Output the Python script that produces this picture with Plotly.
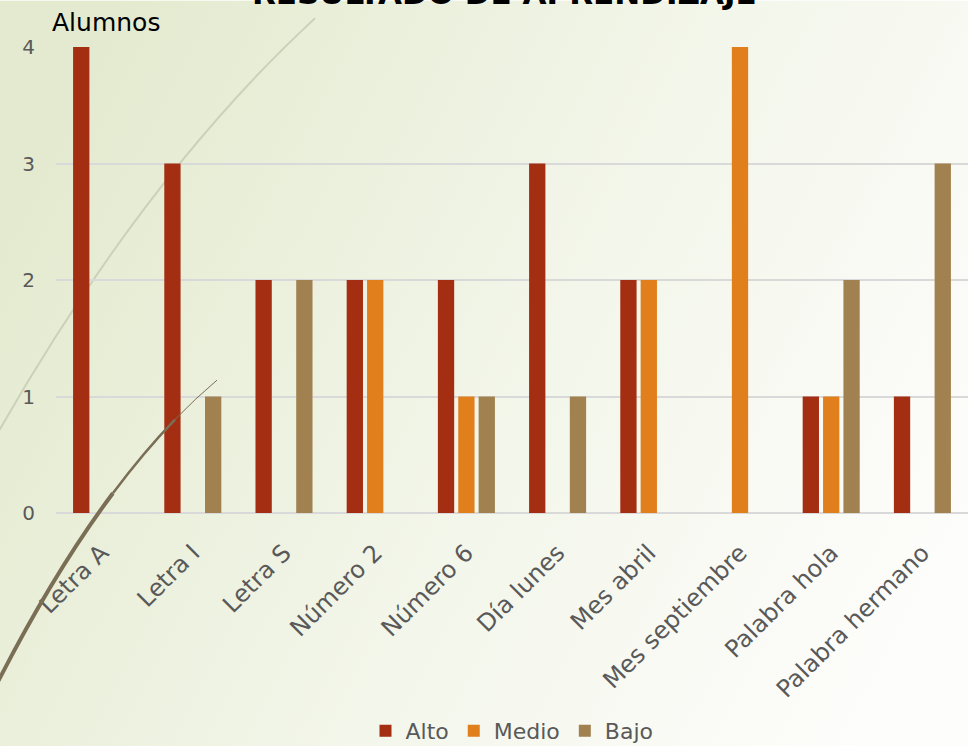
import plotly.graph_objects as go
import base64

categories = ["Letra A", "Letra I", "Letra S", "Número 2", "Número 6",
              "Día lunes", "Mes abril", "Mes septiembre", "Palabra hola", "Palabra hermano"]
alto = [4, 3, 2, 2, 2, 3, 2, 0, 1, 1]
medio = [0, 0, 0, 2, 1, 0, 2, 4, 1, 0]
bajo = [0, 1, 2, 0, 1, 1, 0, 0, 2, 3]
series_names = ["Alto", "Medio", "Bajo"]
colors = ["#A32E12", "#E07F1C", "#A0814F"]

W, H = 968, 752
ML, MR, MT, MB = 56, 0, 47, 235
PW, PH = W - ML - MR, H - MT - MB

def px(x, y):
    return ((x - ML) / PW, (H - MB - y) / PH)

FONT = "DejaVu Sans"

fig = go.Figure()
for name, vals, c in zip(series_names, [alto, medio, bajo], colors):
    fig.add_trace(go.Bar(x=categories, y=vals, name=name, marker=dict(color=c, line=dict(width=0))))

# background gradient
svg = f'''<svg xmlns="http://www.w3.org/2000/svg" width="{W}" height="{H}">
<defs><linearGradient id="g" x1="0" y1="0.3" x2="1" y2="0.7">
<stop offset="0" stop-color="#E4EACF"/><stop offset="0.55" stop-color="#F3F6EA"/><stop offset="1" stop-color="#FDFDFB"/>
</linearGradient></defs><rect width="{W}" height="{H}" fill="url(#g)"/></svg>'''
src = "data:image/svg+xml;base64," + base64.b64encode(svg.encode()).decode()

x0, y0 = px(0, 0)
fig.add_layout_image(dict(source=src, xref="paper", yref="paper", x=x0, y=y0,
                          sizex=W / PW, sizey=H / PH, xanchor="left", yanchor="top",
                          sizing="stretch", layer="below"))

def qpath(p0, c, p2):
    a = px(*p0); b = px(*c); d = px(*p2)
    return f"M {a[0]},{a[1]} Q {b[0]},{b[1]} {d[0]},{d[1]}"

def qsplit(p0, c, p2, t):
    lerp = lambda a, b, t: (a[0] + (b[0] - a[0]) * t, a[1] + (b[1] - a[1]) * t)
    a = lerp(p0, c, t); b = lerp(c, p2, t); m = lerp(a, b, t)
    return (p0, a, m), (m, b, p2)

dark = ((-10, 703), (99.5, 482.5), (217, 383))
first, rest = qsplit(*dark, 0.55)
second, third = qsplit(*rest, 0.6)

shapes = [
    dict(type="path", xref="paper", yref="paper", layer="below",
         path=qpath((-10, 450), (140, 181), (315, 18)),
         line=dict(color="#CDD1BA", width=2)),
    dict(type="path", xref="paper", yref="paper", layer="above",
         path=qpath(*first), line=dict(color="#7A6E55", width=4)),
    dict(type="path", xref="paper", yref="paper", layer="above",
         path=qpath(*second), line=dict(color="#7A6E55", width=2.5)),
    dict(type="path", xref="paper", yref="paper", layer="above",
         path=qpath(*third), line=dict(color="#7A6E55", width=1)),
]

fig.update_layout(
    width=W, height=H,
    margin=dict(l=ML, r=MR, t=MT, b=MB, pad=0),
    paper_bgcolor="rgba(0,0,0,0)", plot_bgcolor="rgba(0,0,0,0)",
    barmode="group", bargap=0.33, bargroupgap=0.2,
    font=dict(family=FONT, color="#595959"),
    shapes=shapes,
    showlegend=True,
    legend=dict(orientation="h", x=0.5, xanchor="center", y=-(737 - (H - MB)) / PH, yanchor="middle",
                font=dict(size=22, color="#595959", family=FONT), itemwidth=30,
                traceorder="normal", bgcolor="rgba(0,0,0,0)"),
    xaxis=dict(tickangle=-45, tickfont=dict(size=24, color="#595959", family=FONT),
               showgrid=False, zeroline=False, showline=False, ticks="", ticklabelstandoff=20),
    yaxis=dict(range=[0, 4], dtick=1, tickfont=dict(size=20, color="#595959", family=FONT),
               gridcolor="#D9D9D9", gridwidth=1.5, zeroline=True, zerolinecolor="#D9D9D9",
               zerolinewidth=1.5, showline=False, ticks="", ticklabelstandoff=20),
    annotations=[
        dict(text="Alumnos", xref="paper", yref="paper", x=px(50, 0)[0], y=px(0, 22)[1],
             xanchor="left", yanchor="middle", showarrow=False,
             font=dict(size=25, color="#000000", family=FONT)),
        dict(text="<b>RESULTADO DE APRENDIZAJE</b>", xref="paper", yref="paper",
             x=px(504, 0)[0], y=px(0, -7)[1], xanchor="center", yanchor="middle", showarrow=False,
             font=dict(size=31, color="#000000", family=FONT)),
    ],
)

fig.write_html("out.html")
